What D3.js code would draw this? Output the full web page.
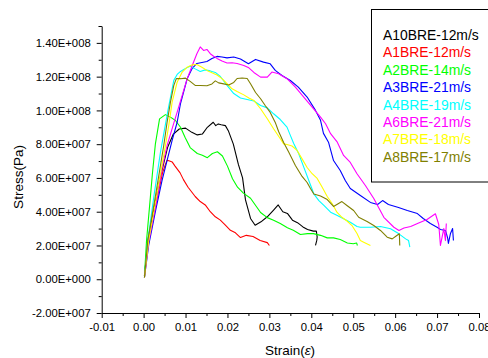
<!DOCTYPE html>
<html>
<head>
<meta charset="utf-8">
<script src="https://cdn.jsdelivr.net/npm/d3@7"></script>
<style>
  body { margin: 0; background: #fff; }
  svg { display: block; font-family: Arial, "Liberation Sans", sans-serif; }
</style>
</head>
<body>
<svg id="chart" width="488" height="358"></svg>
<script>
// each point is [strain, stress in 1e7 Pa]
const a10 = [[0.0002,0.2],[0.001,2.3],[0.0038,5.85],[0.0057,7.8],[0.0071,8.6],[0.0085,8.9],[0.0100,8.95],[0.0115,8.7],[0.0128,8.55],[0.0140,8.6],[0.0152,9.0],[0.0166,9.3],[0.0172,9.1],[0.0178,9.2],[0.0185,9.15],[0.0195,9.1],[0.0202,8.8],[0.0214,8.0],[0.0226,6.8],[0.0236,6.0],[0.0243,4.7],[0.0255,3.6],[0.0266,3.2],[0.0280,3.4],[0.0295,3.7],[0.0310,4.1],[0.0321,4.4],[0.0332,4.0],[0.0343,3.9],[0.0355,3.5],[0.0367,3.35],[0.0380,3.1],[0.0391,2.95],[0.0405,2.85],[0.0412,2.85],[0.0414,2.5],[0.0413,2.3],[0.0410,2.0]]
const a1 = [[0.0002,0.2],[0.0012,2.3],[0.003,4.5],[0.0045,6.3],[0.0052,6.8],[0.0056,7.05],[0.0062,7.0],[0.0068,6.95],[0.0075,6.7],[0.0087,6.3],[0.0095,5.9],[0.0106,5.45],[0.0123,4.9],[0.0135,4.6],[0.0147,4.4],[0.0159,4.0],[0.0171,3.7],[0.0183,3.5],[0.0195,3.2],[0.0207,2.9],[0.0219,2.75],[0.0231,2.47],[0.0245,2.6],[0.0261,2.53],[0.0278,2.3],[0.0295,2.17],[0.0300,2.0]]
const a2 = [[0.0002,0.2],[0.0007,2.3],[0.0014,4.27],[0.0021,6.26],[0.0028,8.0],[0.0038,9.5],[0.0052,9.75],[0.0064,9.6],[0.0076,9.4],[0.0088,9.0],[0.0099,8.4],[0.0111,7.8],[0.0128,7.45],[0.014,7.35],[0.0152,7.2],[0.0164,7.45],[0.0176,7.55],[0.0188,7.3],[0.02,6.7],[0.0212,5.95],[0.0224,5.45],[0.0238,5.1],[0.0255,4.8],[0.0279,3.95],[0.0295,3.65],[0.031,3.5],[0.0326,3.3],[0.0343,3.05],[0.0357,2.9],[0.0374,2.65],[0.0391,2.7],[0.0405,2.7],[0.0422,2.6],[0.0438,2.45],[0.0453,2.45],[0.0469,2.35],[0.0486,2.15],[0.05,2.1],[0.0508,2.15],[0.051,2.0]]
const a3 = [[0.0002,0.1],[0.0012,2.0],[0.0028,4.0],[0.0044,5.85],[0.0068,8.22],[0.0080,9.3],[0.0088,10.41],[0.0104,11.89],[0.0116,12.49],[0.0127,12.78],[0.0139,12.84],[0.0151,12.9],[0.0163,13.08],[0.0175,13.2],[0.0187,13.16],[0.0199,13.11],[0.0215,13.16],[0.0231,13.05],[0.0250,12.76],[0.0267,13.02],[0.0286,12.86],[0.0302,12.76],[0.0314,12.37],[0.0330,12.07],[0.0350,11.77],[0.0369,11.38],[0.0390,10.79],[0.0410,10.0],[0.0422,9.41],[0.0429,8.64],[0.0441,8.12],[0.0453,7.03],[0.0469,6.44],[0.0481,5.85],[0.0493,5.37],[0.0517,4.96],[0.0541,4.55],[0.0558,4.43],[0.0570,4.66],[0.0584,4.43],[0.0608,4.25],[0.0629,4.07],[0.0653,3.89],[0.0667,3.6],[0.0684,3.3],[0.0701,3.06],[0.0708,2.95],[0.0720,2.89],[0.0725,2.47],[0.0727,2.12],[0.0732,2.71],[0.0737,3.0],[0.0739,2.29]]
const a4 = [[0.0002,0.1],[0.001,2.3],[0.0025,5.0],[0.004,7.5],[0.0058,10.0],[0.0072,11.78],[0.0080,12.13],[0.0088,12.31],[0.0100,12.49],[0.0111,12.62],[0.0123,12.46],[0.0135,12.31],[0.0147,12.4],[0.0159,12.34],[0.0171,12.25],[0.0183,12.01],[0.0199,11.48],[0.0215,11.0],[0.0231,10.74],[0.0247,10.65],[0.0263,10.56],[0.0279,10.29],[0.0295,10.15],[0.0310,9.8],[0.0326,9.46],[0.0342,9.01],[0.0350,8.52],[0.0358,8.04],[0.0370,7.43],[0.0382,6.64],[0.0394,5.85],[0.0406,5.06],[0.0418,4.66],[0.0430,4.37],[0.0446,3.97],[0.0462,3.77],[0.0477,3.58],[0.0493,3.38],[0.0509,3.12],[0.0517,3.08],[0.0541,3.08],[0.0565,3.12],[0.0589,2.99],[0.0609,2.69],[0.0625,2.39],[0.0632,2.29],[0.0635,1.9]]
const a6 = [[0.0002,0.1],[0.0012,2.2],[0.003,4.5],[0.0045,6.7],[0.0056,7.92],[0.0068,8.92],[0.0080,9.9],[0.0092,10.89],[0.0104,11.88],[0.0116,12.66],[0.0127,13.36],[0.0135,13.76],[0.0143,13.55],[0.0151,13.61],[0.0159,13.36],[0.0167,13.21],[0.0175,13.08],[0.0187,12.93],[0.0199,12.81],[0.0211,12.82],[0.0223,12.78],[0.0239,12.66],[0.0251,12.52],[0.0263,12.25],[0.0279,11.97],[0.0295,11.97],[0.0306,12.27],[0.0322,12.17],[0.0342,11.88],[0.0362,11.38],[0.0382,10.79],[0.0402,10.19],[0.0422,9.6],[0.0434,9.21],[0.0446,8.62],[0.0462,8.12],[0.0477,7.33],[0.0493,6.92],[0.0509,6.25],[0.0529,5.55],[0.0549,4.78],[0.0573,3.67],[0.0597,3.08],[0.0609,2.89],[0.0621,3.03],[0.0637,3.12],[0.0656,3.33],[0.0676,3.54],[0.0696,3.88],[0.0704,3.24],[0.0708,2.0],[0.0712,2.49],[0.0716,3.0],[0.0720,2.29],[0.0722,3.3]]
const a7 = [[0.0002,0.1],[0.0012,2.3],[0.003,4.8],[0.0052,7.92],[0.0060,9.11],[0.0068,10.49],[0.0080,11.67],[0.0092,12.27],[0.0104,12.56],[0.0116,12.7],[0.0127,12.72],[0.0139,12.56],[0.0151,12.37],[0.0163,12.23],[0.0175,12.1],[0.0187,11.88],[0.0199,11.58],[0.0211,11.28],[0.0223,11.12],[0.0239,10.92],[0.0251,10.74],[0.0263,10.59],[0.0279,10.1],[0.0295,9.51],[0.0310,8.91],[0.0326,8.32],[0.0334,8.02],[0.0342,7.98],[0.0354,7.89],[0.0366,7.63],[0.0378,7.13],[0.0390,6.62],[0.0402,6.25],[0.0414,5.97],[0.0426,5.45],[0.0438,4.9],[0.0450,4.47],[0.0461,3.97],[0.0473,3.67],[0.0485,3.45],[0.0497,3.18],[0.0509,2.71],[0.0517,2.29],[0.0525,2.19],[0.0541,2.0]]
const a8 = [[0.0002,0.1],[0.001,2.3],[0.003,5.2],[0.0048,7.92],[0.0056,9.3],[0.0064,10.49],[0.0072,11.48],[0.0078,11.88],[0.0088,11.88],[0.0100,11.91],[0.0111,11.72],[0.0123,11.48],[0.0135,11.48],[0.0151,11.46],[0.0163,11.57],[0.0171,11.75],[0.0179,11.63],[0.0191,11.57],[0.0203,11.51],[0.0215,11.66],[0.0223,11.89],[0.0235,11.92],[0.0247,11.89],[0.0255,11.58],[0.0267,11.06],[0.0279,10.69],[0.0290,10.29],[0.0302,9.88],[0.0314,9.29],[0.0322,8.75],[0.0334,8.1],[0.0346,7.53],[0.0362,6.74],[0.0378,6.09],[0.0390,5.73],[0.0398,5.37],[0.0406,5.05],[0.0422,4.93],[0.0438,4.72],[0.0453,4.31],[0.0465,4.49],[0.0473,4.6],[0.0485,4.37],[0.0501,4.07],[0.0513,3.67],[0.0533,3.42],[0.0549,3.18],[0.0565,2.89],[0.0581,2.49],[0.0593,2.39],[0.0604,2.59],[0.0610,2.69],[0.0611,2.0]]

const seriesNames = ['A10BRE-12m/s', 'A1BRE-12m/s', 'A2BRE-14m/s', 'A3BRE-21m/s', 'A4BRE-19m/s', 'A6BRE-21m/s', 'A7BRE-18m/s', 'A8BRE-17m/s']
const seriesData = [a10, a1, a2, a3, a4, a6, a7, a8]
const colors = ['#000000', '#ff0000', '#00ff00', '#0000ff', '#00ffff', '#ff00ff', '#ffff00', '#808000']

const xTicks = [-0.01, 0, 0.01, 0.02, 0.03, 0.04, 0.05, 0.06, 0.07, 0.08]
const yTicks = [-2e7, 0, 2e7, 4e7, 6e7, 8e7, 1e8, 1.2e8, 1.4e8]

const svg = d3.select('#chart')

const x = d3.scaleLinear().domain([-0.01, 0.08]).range([101.7, 479])
const y = d3.scaleLinear().domain([-2e7, 1.5e8]).range([313, 26])

// scientific labels like 1.40E+008
const sci = v => {
    if (v === 0) return '0.00E+000'
    const e = Math.floor(Math.log10(Math.abs(v)))
    const m = v / Math.pow(10, e)
    return `${m.toFixed(2)}E${e < 0 ? '-' : '+'}${String(Math.abs(e)).padStart(3, '0')}`
}

// minor ticks
const xMinor = d3.range(0, 19).map(i => -0.01 + i * 0.005).filter((d, i) => i % 2 === 1)
const yMinor = d3.range(0, 9).map(i => -1e7 + i * 2e7)

svg.append('g')
    .attr('transform', `translate(0,${y.range()[0]})`)
    .call(d3.axisBottom(x).tickValues(xMinor).tickSize(3).tickFormat(''))
    .call(g => g.select('.domain').remove())

svg.append('g')
    .attr('transform', `translate(${x.range()[0]},0)`)
    .call(d3.axisLeft(y).tickValues(yMinor.concat([1.5e8])).tickSize(3).tickFormat(''))
    .call(g => g.select('.domain').remove())

svg.append('g')
    .attr('transform', `translate(0,${y.range()[0]})`)
    .call(d3.axisBottom(x).tickValues(xTicks).tickSize(5).tickSizeOuter(0).tickPadding(5)
        .tickFormat(d => d.toFixed(2)))
    .call(g => g.selectAll('text').attr('font-size', 11.3).attr('font-family', 'Arial, "Liberation Sans", sans-serif').attr('fill', '#000'))

svg.append('g')
    .attr('transform', `translate(${x.range()[0]},0)`)
    .call(d3.axisLeft(y).tickValues(yTicks).tickSize(5).tickSizeOuter(0).tickPadding(6).tickFormat(sci))
    .call(g => g.selectAll('text').attr('font-size', 11.3).attr('font-family', 'Arial, "Liberation Sans", sans-serif').attr('fill', '#000'))

// axis titles
const xTitle = svg.append('text')
    .attr('x', 290).attr('y', 355)
    .attr('text-anchor', 'middle')
    .attr('font-size', 13.5)
xTitle.append('tspan').text('Strain(')
xTitle.append('tspan').attr('font-style', 'italic').text('ε')
xTitle.append('tspan').text(')')

svg.append('text')
    .attr('transform', 'translate(23,177) rotate(-90)')
    .attr('text-anchor', 'middle')
    .attr('font-size', 13.5)
    .text('Stress(Pa)')

// curves
const line = d3.line()
    .x(d => x(d[0]))
    .y(d => y(d[1] * 1e7))

svg.append('g')
    .selectAll('path')
    .data(seriesData)
    .join('path')
    .attr('fill', 'none')
    .attr('stroke', (d, i) => colors[i])
    .attr('stroke-width', 1.1)
    .attr('stroke-linejoin', 'round')
    .attr('d', line)

// legend
const legend = svg.append('g')
legend.append('rect')
    .attr('x', 371.5).attr('y', 9.5)
    .attr('width', 130).attr('height', 172.5)
    .attr('fill', '#fff')
    .attr('stroke', '#000')
    .attr('stroke-width', 1)

legend.selectAll('text')
    .data(seriesNames)
    .join('text')
    .attr('x', 383)
    .attr('y', (d, i) => 40 + i * 17.4)
    .attr('font-size', 13.9)
    .attr('fill', (d, i) => colors[i])
    .text(d => d)
</script>
</body>
</html>
